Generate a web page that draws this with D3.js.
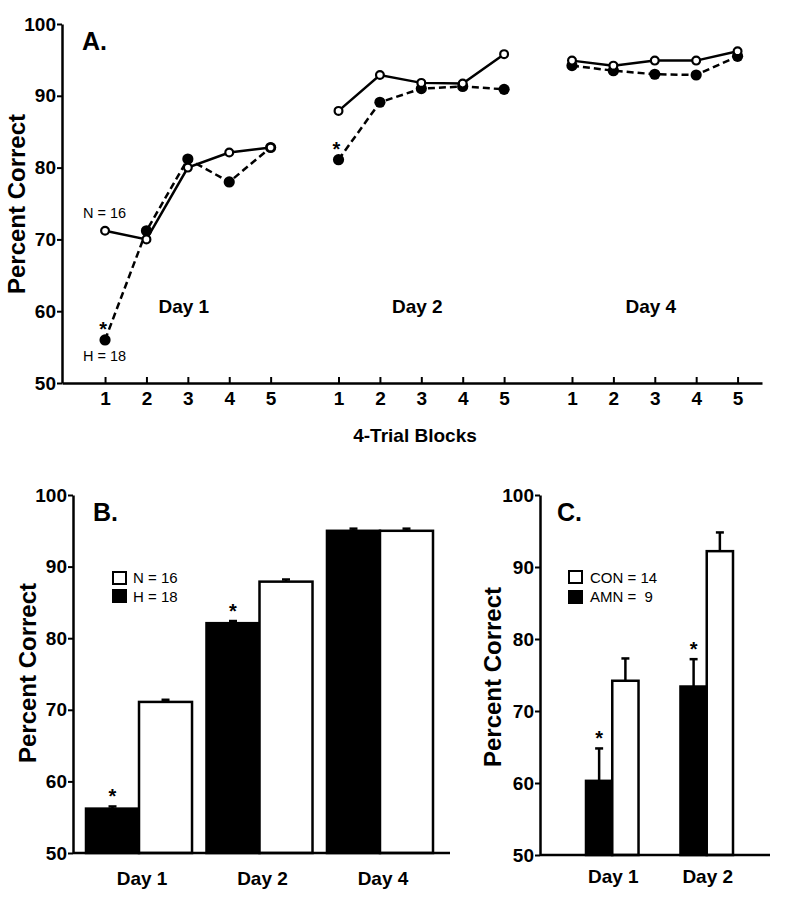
<!DOCTYPE html>
<html><head><meta charset="utf-8">
<script src="https://cdn.jsdelivr.net/npm/d3@7"></script>
<style>
body{margin:0;background:#fff}
svg{display:block}
text{font-family:"Liberation Sans",Arial,Helvetica,sans-serif;fill:#000}
</style>
</head><body><svg id="c" width="795" height="900"></svg>
<script>
// ---------- DATA ----------
const blocks = [1, 2, 3, 4, 5];
const daysA = ["Day 1", "Day 2", "Day 4"];
const normalA = [[71.2, 70.0, 80.0, 82.1, 82.8], [87.9, 92.9, 91.8, 91.7, 95.8], [94.9, 94.2, 94.9, 94.9, 96.2]];
const hypoxicA = [[56.0, 71.2, 81.2, 78.0, 82.8], [81.1, 89.1, 91.0, 91.3, 90.9], [94.2, 93.5, 93.0, 92.9, 95.5]];
const starsA = [[0, 1], [1, 1]]; // [day index, block]
const yTicks = [50, 60, 70, 80, 90, 100];

const daysB = ["Day 1", "Day 2", "Day 4"];
const groupsB = ["H", "N"];
const meansH_B = [56.2, 82.1, 95.0];
const meansN_B = [71.1, 87.9, 95.0];
const errH_B = [0.3, 0.3, 0.3];
const errN_B = [0.3, 0.3, 0.3];
const starsB = ["Day 1", "Day 2"];
const legendB = ["N = 16", "H = 18"];

const daysC = ["Day 1", "Day 2"];
const groupsC = ["AMN", "CON"];
const meansAMN_C = [60.3, 73.4];
const meansCON_C = [74.2, 92.2];
const errAMN_C = [4.5, 3.8];
const errCON_C = [3.1, 2.6];
const starsC = ["Day 1", "Day 2"];
const legendC = ["CON = 14", "AMN =  9"];

// ---------- HELPERS ----------
const svg = d3.select("#c");
const SW = 2.5;
function styleAxis(g, fs) {
  g.select(".domain").attr("stroke", "#000").attr("stroke-width", SW);
  g.selectAll(".tick line").attr("stroke", "#000").attr("stroke-width", 2);
  g.selectAll(".tick text").attr("font-size", fs).attr("font-weight", "bold")
    .attr("font-family", '"Liberation Sans",Arial,sans-serif').attr("fill", "#000");
}
function yTitle(x, y) {
  svg.append("text").attr("transform", `translate(${x},${y}) rotate(-90)`)
    .attr("text-anchor", "middle").attr("font-size", 24).attr("font-weight", "bold")
    .text("Percent Correct");
}
function star(x, y) {
  svg.append("text").attr("x", x).attr("y", y).attr("text-anchor", "middle")
    .attr("font-size", 20).attr("font-weight", "bold").text("*");
}

// ---------- PANEL A ----------
const groupOffset = 5.64;
const xA = d3.scaleLinear().domain([-0.04, 16.87]).range([62, 762]);
const yA = d3.scaleLinear().domain([50, 100]).range([383, 24]);
const posA = (di, b) => xA(b + di * groupOffset);

const tickPos = [], tickLab = new Map();
daysA.forEach((d, di) => blocks.forEach(b => { const p = b + di * groupOffset; tickPos.push(p); tickLab.set(p, b); }));

const gxA = svg.append("g").attr("transform", `translate(0,${yA(50)})`)
  .call(d3.axisBottom(xA).tickValues(tickPos).tickFormat(p => tickLab.get(p))
    .tickSizeInner(-6).tickSizeOuter(0).tickPadding(9));
styleAxis(gxA, 19);
const gyA = svg.append("g").attr("transform", `translate(${xA(-0.04)},0)`)
  .call(d3.axisLeft(yA).tickValues(yTicks).tickSize(5).tickSizeOuter(0).tickPadding(1));
styleAxis(gyA, 19);
yTitle(25, 204);

const lineA = d3.line().x(d => d[0]).y(d => d[1]);
daysA.forEach((day, di) => {
  const hp = blocks.map((b, i) => [posA(di, b), yA(hypoxicA[di][i])]);
  const np = blocks.map((b, i) => [posA(di, b), yA(normalA[di][i])]);
  svg.append("path").attr("d", lineA(hp)).attr("fill", "none").attr("stroke", "#000")
    .attr("stroke-width", SW).attr("stroke-dasharray", "7,4");
  svg.append("path").attr("d", lineA(np)).attr("fill", "none").attr("stroke", "#000")
    .attr("stroke-width", SW);
  svg.selectAll(null).data(hp).enter().append("circle")
    .attr("cx", d => d[0]).attr("cy", d => d[1]).attr("r", 5.6).attr("fill", "#000");
  svg.selectAll(null).data(np).enter().append("circle")
    .attr("cx", d => d[0]).attr("cy", d => d[1]).attr("r", 3.9).attr("fill", "#fff")
    .attr("stroke", "#000").attr("stroke-width", 2.2);
  svg.append("text").attr("x", (posA(di, 1) + posA(di, 5)) / 2 - 4).attr("y", 313)
    .attr("text-anchor", "middle").attr("font-size", 19).attr("font-weight", "bold").text(day);
});
starsA.forEach(([di, b]) => star(posA(di, b) - 2, yA(hypoxicA[di][b - 1]) - 4));
svg.append("text").attr("x", 83).attr("y", 218).attr("font-size", 14.5).text("N = 16");
svg.append("text").attr("x", 83).attr("y", 361).attr("font-size", 14.5).text("H = 18");
svg.append("text").attr("x", 82).attr("y", 50).attr("font-size", 25).attr("font-weight", "bold").text("A.");
svg.append("text").attr("x", 415).attr("y", 442).attr("text-anchor", "middle")
  .attr("font-size", 19).attr("font-weight", "bold").text("4-Trial Blocks");

// ---------- PANEL B ----------
const yB = d3.scaleLinear().domain([50, 100]).range([853, 495]);
const xB = d3.scaleBand().domain(daysB).range([86, 433]).paddingInner(0.12).paddingOuter(0);
const xBi = d3.scaleBand().domain(groupsB).range([0, xB.bandwidth()]);
const axisBx0 = 73, axisBx1 = 450;
const gyB = svg.append("g").attr("transform", `translate(${axisBx0},0)`)
  .call(d3.axisLeft(yB).tickValues(yTicks).tickSize(5).tickSizeOuter(0).tickPadding(1));
styleAxis(gyB, 19);
yTitle(36, 673);

const dataB = daysB.flatMap((d, i) => [
  { day: d, g: "H", v: meansH_B[i], e: errH_B[i] },
  { day: d, g: "N", v: meansN_B[i], e: errN_B[i] }]);
function bars(data, xs, xi, ys, darkKey) {
  data.forEach(d => {
    const x = xs(d.day) + xi(d.g), w = xi.bandwidth(), cx = x + w / 2;
    svg.append("line").attr("x1", cx).attr("x2", cx).attr("y1", ys(d.v)).attr("y2", ys(d.v + d.e))
      .attr("stroke", "#000").attr("stroke-width", SW);
    svg.append("line").attr("x1", cx - 4).attr("x2", cx + 4).attr("y1", ys(d.v + d.e)).attr("y2", ys(d.v + d.e))
      .attr("stroke", "#000").attr("stroke-width", SW);
    svg.append("rect").attr("x", x).attr("width", w).attr("y", ys(d.v)).attr("height", ys(50) - ys(d.v))
      .attr("fill", d.g === darkKey ? "#000" : "#fff").attr("stroke", "#000").attr("stroke-width", SW);
  });
}
bars(dataB, xB, xBi, yB, "H");
svg.append("line").attr("x1", axisBx0).attr("x2", axisBx1).attr("y1", yB(50)).attr("y2", yB(50))
  .attr("stroke", "#000").attr("stroke-width", SW);
daysB.forEach(d => svg.append("text").attr("x", xB(d) + xB.bandwidth() / 2 + 3).attr("y", 885)
  .attr("text-anchor", "middle").attr("font-size", 19).attr("font-weight", "bold").text(d));
starsB.forEach(d => { const i = daysB.indexOf(d);
  star(xB(d) + xBi("H") + xBi.bandwidth() / 2, yB(meansH_B[i] + errH_B[i]) - 3); });
svg.append("text").attr("x", 93).attr("y", 521).attr("font-size", 25).attr("font-weight", "bold").text("B.");
// legend B
svg.append("rect").attr("x", 113).attr("y", 572).attr("width", 13).attr("height", 12)
  .attr("fill", "#fff").attr("stroke", "#000").attr("stroke-width", 2);
svg.append("rect").attr("x", 112).attr("y", 589).attr("width", 15).attr("height", 14).attr("fill", "#000");
svg.append("text").attr("x", 133).attr("y", 583).attr("font-size", 15).text(legendB[0]);
svg.append("text").attr("x", 133).attr("y", 602).attr("font-size", 15).text(legendB[1]);

// ---------- PANEL C ----------
const yC = d3.scaleLinear().domain([50, 100]).range([855, 495]);
const xC = d3.scaleBand().domain(daysC).range([586, 733]).paddingInner(0.444).paddingOuter(0);
const xCi = d3.scaleBand().domain(groupsC).range([0, xC.bandwidth()]);
const axisCx0 = 540, axisCx1 = 770;
const gyC = svg.append("g").attr("transform", `translate(${axisCx0},0)`)
  .call(d3.axisLeft(yC).tickValues(yTicks).tickSize(5).tickSizeOuter(0).tickPadding(1));
styleAxis(gyC, 19);
yTitle(501, 677);
const dataC = daysC.flatMap((d, i) => [
  { day: d, g: "AMN", v: meansAMN_C[i], e: errAMN_C[i] },
  { day: d, g: "CON", v: meansCON_C[i], e: errCON_C[i] }]);
bars(dataC, xC, xCi, yC, "AMN");
svg.append("line").attr("x1", axisCx0).attr("x2", axisCx1).attr("y1", yC(50)).attr("y2", yC(50))
  .attr("stroke", "#000").attr("stroke-width", SW);
daysC.forEach(d => svg.append("text").attr("x", xC(d) + xC.bandwidth() / 2 + 1).attr("y", 883)
  .attr("text-anchor", "middle").attr("font-size", 19).attr("font-weight", "bold").text(d));
starsC.forEach(d => { const i = daysC.indexOf(d);
  star(xC(d) + xCi("AMN") + xCi.bandwidth() / 2, yC(meansAMN_C[i] + errAMN_C[i]) - 3); });
svg.append("text").attr("x", 557).attr("y", 521).attr("font-size", 25).attr("font-weight", "bold").text("C.");
svg.append("rect").attr("x", 569).attr("y", 571).attr("width", 13).attr("height", 12)
  .attr("fill", "#fff").attr("stroke", "#000").attr("stroke-width", 2);
svg.append("rect").attr("x", 568).attr("y", 590).attr("width", 15).attr("height", 14).attr("fill", "#000");
svg.append("text").attr("x", 590).attr("y", 583).attr("font-size", 15).text(legendC[0]);
svg.append("text").attr("x", 590).attr("y", 602).attr("font-size", 15).style("white-space", "pre").text(legendC[1]);
</script>
</body></html>
